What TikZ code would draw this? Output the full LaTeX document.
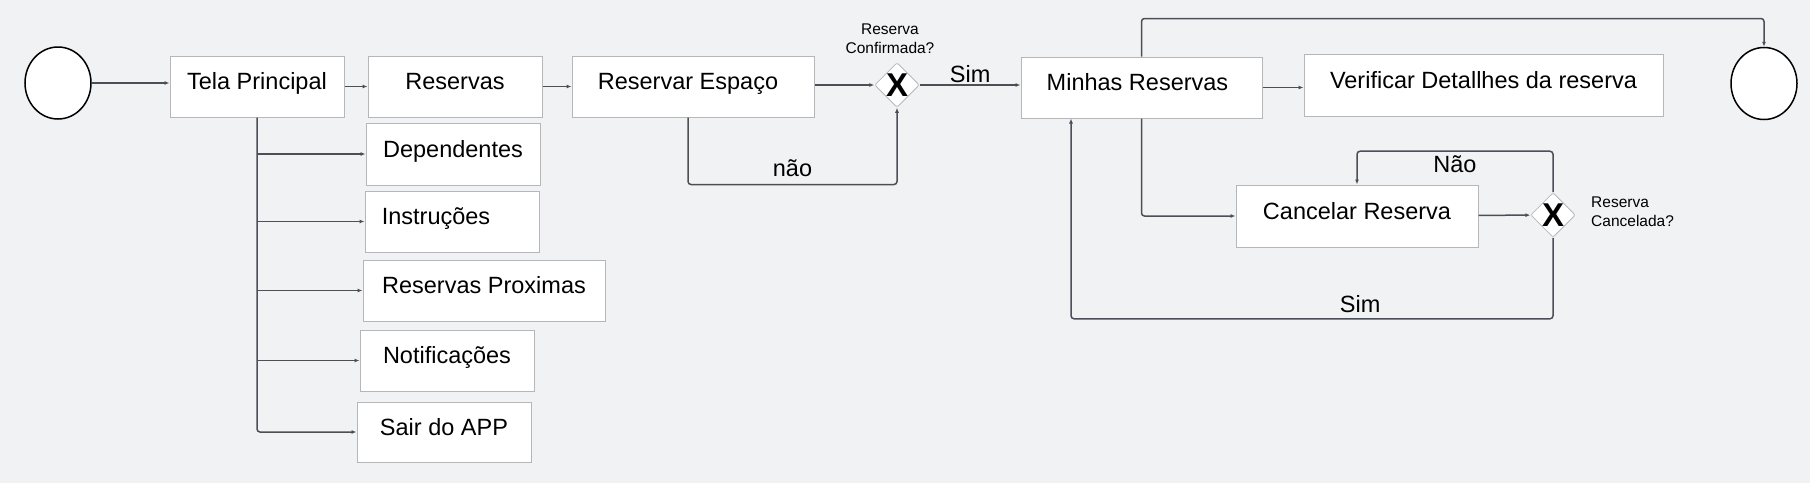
\documentclass[tikz,border=0pt]{standalone}
\usepackage{fontspec}
\setmainfont{Liberation Sans}
\usetikzlibrary{arrows.meta,positioning,shapes.geometric}
\definecolor{canvas}{HTML}{F1F2F4}
\definecolor{boxline}{HTML}{B5B7BA}
\definecolor{wire}{HTML}{4B5058}
\tikzset{
  screen/.style={draw=boxline, line width=1pt, fill=white, inner sep=0pt,
    minimum height=61pt, text height=17pt, text depth=11pt,
    font=\fontsize{23.5}{28}\selectfont},
  terminal/.style={ellipse, draw=black, line width=1.5pt, fill=white,
    minimum width=66pt, minimum height=72pt, inner sep=0pt},
  gateway/.style={diamond, draw=boxline, line width=0.8pt, fill=white,
    rounded corners=2pt, minimum width=44pt, minimum height=40pt, inner sep=0pt,
    font=\fontsize{33}{33}\bfseries\selectfont},
  arr/.style={-{Latex[length=5pt,width=4pt]}, line width=1.5pt, draw=wire, rounded corners=3pt},
  flowlabel/.style={font=\fontsize{23.5}{28}\selectfont, inner sep=0pt},
  question/.style={font=\fontsize{15.5}{19}\selectfont, align=center, inner sep=0pt}
}
\begin{document}
\begin{tikzpicture}[x=1pt, y=-1pt]
    \fill[canvas] (0,0) rectangle (1810,483);
    \useasboundingbox (0,0) rectangle (1810,483);
    % linha principal
    \node[terminal] (start) at (58,83) {};
    \node[screen, minimum width=174pt] (tela) at (257,86.5) {Tela Principal};
    \node[screen, minimum width=174pt] (reservas) at (455,86.5) {Reservas};
    \node[screen, minimum width=242pt] (espaco) at (693,86.5) {Reservar Espaço\kern10pt};
    \node[gateway] (conf) at (897,85) {X};
    \node[question] (confq) at (890,39) {Reserva\\Confirmada?};
    % menu da tela principal
    \node[screen, minimum width=174pt, minimum height=62pt] (dep) at (453,154) {Dependentes};
    \node[screen, minimum width=174pt] (instr) at (452,221.5) {Instruções\kern32pt};
    \node[screen, minimum width=242pt] (prox) at (484,290.5) {Reservas Proximas};
    \node[screen, minimum width=174pt] (notif) at (447,360.5) {Notificações};
    \node[screen, minimum width=174pt, minimum height=60pt] (sair) at (444,432) {Sair do APP};
    % minhas reservas
    \node[screen, minimum width=241pt] (minhas) at (1141.5,87.5) {Minhas Reservas\kern8pt};
    \node[screen, minimum width=359pt, minimum height=62pt] (detalhe) at (1483.5,85) {Verificar Detallhes da reserva};
    \node[terminal] (fim) at (1764,83.5) {};
    \node[screen, minimum width=242pt, minimum height=62pt] (cancelar) at (1357,216) {Cancelar Reserva};
    \node[gateway] (canc) at (1553,215) {X};
    \node[question, align=left, anchor=west] (cancq) at (1591,212) {Reserva\\Cancelada?};

    \draw[arr] (start.east) -- (start.east -| tela.west);
    \draw[arr] (tela) -- (reservas);
    \draw[arr] (reservas) -- (espaco);
    \draw[arr] (espaco.east |- conf) -- (conf.west);
    \draw[arr] (conf) -- node[flowlabel, yshift=11pt] {Sim} (conf -| minhas.west);
    \draw[arr] ([xshift=-5pt]espaco.south) -- ++(0,67) -| node[flowlabel, pos=0.25, yshift=16pt] {não} (conf.south);
    \draw[arr] (tela.south) |- (sair.west);
    \foreach \s in {dep,instr,prox,notif}
      \draw[arr] (tela.south |- \s.west) -- (\s.west);
    \draw[arr] (minhas) -- (minhas -| detalhe.west);
    \draw[arr] (minhas.north) -- ++(0,-38) -| (fim.north);
    \draw[arr] (minhas.south) |- (cancelar.west);
    \draw[arr] (cancelar) -- (canc);
    \draw[arr] (canc.north) -- ++(0,-41) -| node[flowlabel, pos=0.25, yshift=-13pt] {Não} (cancelar.north);
    \draw[arr] (canc.south) -- ++(0,81) -| node[flowlabel, pos=0.2, yshift=15pt] {Sim} ([xshift=-70.5pt]minhas.south);
\end{tikzpicture}
\end{document}
